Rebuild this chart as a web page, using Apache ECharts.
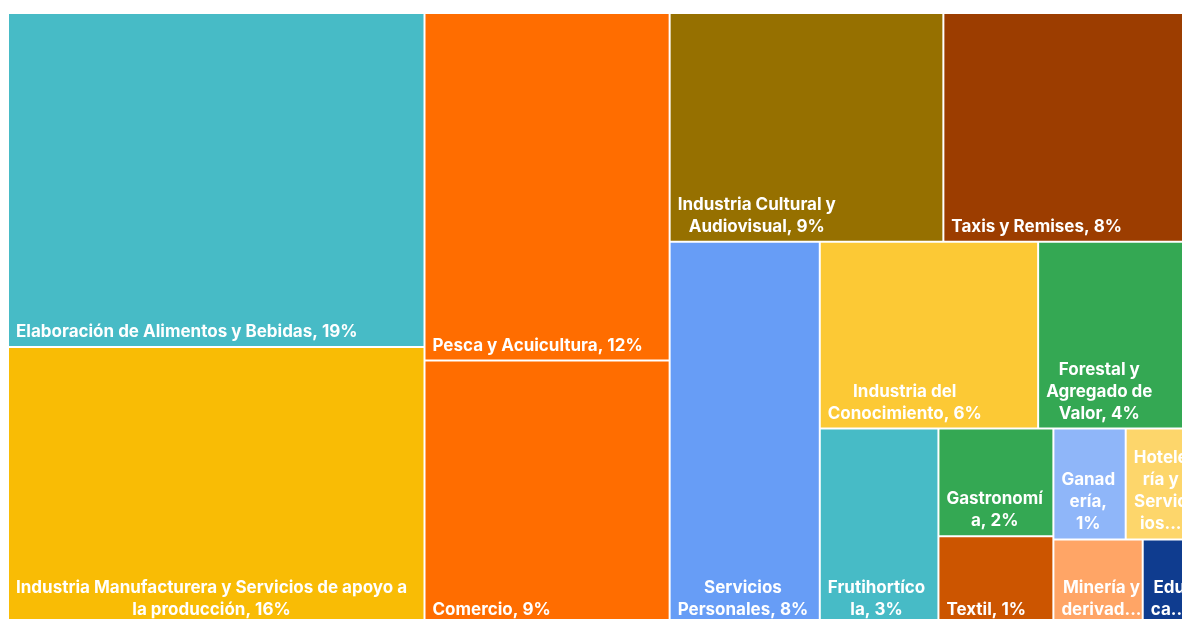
<!DOCTYPE html>
<html>
<head>
<meta charset="utf-8">
<style>
  html, body { margin: 0; padding: 0; background: #fff; }
  #chart { width: 1182px; height: 619px; }
</style>
<script src="https://cdn.jsdelivr.net/npm/echarts@6/dist/echarts.min.js"></script>
</head>
<body>
<div id="chart"></div>
<script>
// sectores y participación (%)
const sectores = [
  "Elaboración de Alimentos y Bebidas",
  "Industria Manufacturera y Servicios de apoyo a la producción",
  "Pesca y Acuicultura",
  "Comercio",
  "Industria Cultural y Audiovisual",
  "Taxis y Remises",
  "Servicios Personales",
  "Industria del Conocimiento",
  "Forestal y Agregado de Valor",
  "Frutihortícola",
  "Gastronomía",
  "Textil",
  "Ganadería",
  "Hotelería y Servicios Turísticos",
  "Minería y derivados",
  "Educación"
];
const porcentajes = [19.1, 15.9, 11.7, 8.9, 8.6, 8.0, 7.9, 5.6, 4.1, 3.2, 1.7, 1.4, 1.1, 1.1, 1.05, 0.65];
// rótulos tal como se leen en el gráfico (con sus cortes de línea)
const rotulos = [
  "Elaboración de Alimentos y Bebidas, 19%",
  "Industria Manufacturera y Servicios de apoyo a\nla producción, 16%",
  "Pesca y Acuicultura, 12%",
  "Comercio, 9%",
  "Industria Cultural y\nAudiovisual, 9%",
  "Taxis y Remises, 8%",
  "Servicios\nPersonales, 8%",
  "Industria del\nConocimiento, 6%",
  "Forestal y\nAgregado de\nValor, 4%",
  "Frutihortíco\nla, 3%",
  "Gastronomí\na, 2%",
  "Textil, 1%",
  "Ganad\nería,\n1%",
  "Hotele\nría y\nServic\nios...",
  "Minería y\nderivad...",
  "Edu\nca..."
];
const colores = [
  "#47bbc6", "#f9bc05", "#ff6d00", "#ff6d00", "#967000", "#9c3d00",
  "#679df6", "#fcc935", "#34a853", "#47bbc6", "#34a853", "#cc5500",
  "#8fb6f9", "#fdd66b", "#ffa566", "#0f3c8f"
];

const fuente = "bold 17px Inter";
let ctx = document.createElement("canvas").getContext("2d");
ctx.font = fuente;
// ancho de la línea más larga de cada rótulo, para centrar las líneas entre sí
function anchoRotulo(txt) {
  return Math.max(...txt.split("\n").map(l => ctx.measureText(l).width));
}

let chart = echarts.init(document.getElementById("chart"));

let datos = sectores.map((s, i) => ({
  name: s,
  value: porcentajes[i],
  itemStyle: { color: colores[i] },
  label: { formatter: rotulos[i], offset: [7 + anchoRotulo(rotulos[i]) / 2, 0] }
}));

let option = {
  animation: false,
  series: [{
    type: "treemap",
    left: 8,
    top: 13,
    width: 1190,
    height: 612,
    squareRatio: 0.78,   // reparto en franjas como el original
    sort: false,
    roam: false,
    nodeClick: false,
    breadcrumb: { show: false },
    levels: [
      { itemStyle: { borderWidth: 0, gapWidth: 0 } },
      { itemStyle: { borderWidth: 1, borderColor: "#fff", gapWidth: 0 } }
    ],
    label: {
      show: true,
      position: "insideBottomLeft",
      distance: 0,
      align: "center",
      padding: [0, 0, 3, 0],
      color: "#fff",
      fontFamily: "Inter",
      fontWeight: "bold",
      fontSize: 17,
      lineHeight: 22,
      overflow: "none"
    },
    data: datos
  }]
};
chart.setOption(option);
</script>
</body>
</html>
